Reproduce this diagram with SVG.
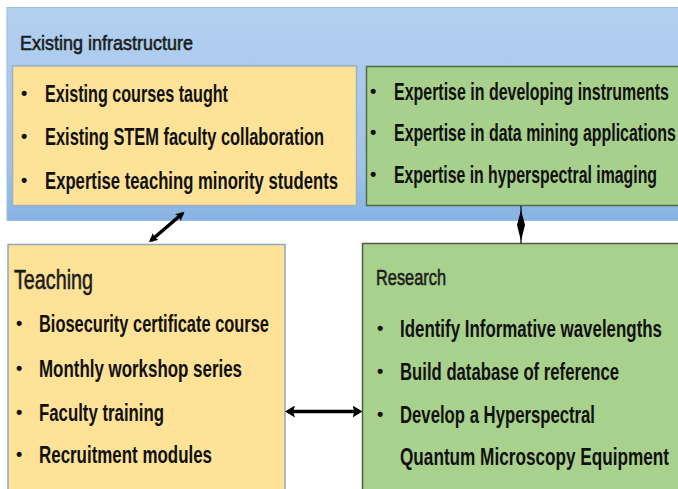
<svg xmlns="http://www.w3.org/2000/svg" width="678" height="489" viewBox="0 0 678 489">
  <defs>
    <linearGradient id="bandFill" x1="0" y1="0" x2="0" y2="1">
      <stop offset="0" stop-color="#B3D0F0"/>
      <stop offset="0.75" stop-color="#A0C3EA"/>
      <stop offset="1" stop-color="#86B3E3"/>
    </linearGradient>
    <marker id="head" viewBox="0 0 10 12" refX="7" refY="6" markerWidth="10" markerHeight="12" markerUnits="userSpaceOnUse" orient="auto-start-reverse">
      <path d="M0,0 L10,6 L0,12 L2,6 Z" fill="#000"/>
    </marker>
    <marker id="headSmall" viewBox="0 0 10 10" refX="7" refY="5" markerWidth="9" markerHeight="9" markerUnits="userSpaceOnUse" orient="auto-start-reverse">
      <path d="M0,0 L10,5 L0,10 L2,5 Z" fill="#000"/>
    </marker>
  </defs>
  <style>
    text { font-family: "Liberation Sans", Arial, sans-serif; fill: #111; }
    .item { font-size: 24.5px; font-weight: bold; }
    .dot { font-size: 18px; font-weight: bold; }
    .head { font-weight: normal; fill: #1c1c1c; stroke: #1c1c1c; stroke-width: 0.6; }
    .yellow { fill: #FEE298; stroke: #9FB0BE; stroke-width: 1.5; }
    .green { fill: #A8D08D; stroke: #4E6B43; stroke-width: 1.5; }
    .link { stroke: #000; stroke-width: 3.5; fill: none; }
  </style>

  <rect width="678" height="489" fill="#FFFFFF"/>

  <!-- existing infrastructure band -->
  <g id="infrastructure">
    <rect x="7" y="7.5" width="680" height="213" fill="url(#bandFill)" stroke="#9DBBDD" stroke-width="1"/>
    <text class="head" x="20" y="50" font-size="21" textLength="173" lengthAdjust="spacingAndGlyphs">Existing infrastructure</text>
  </g>

  <g id="teaching-assets">
    <rect class="yellow" x="12.5" y="66" width="344" height="139.5"/>
    <text class="dot" x="21" y="99">•</text>
    <text class="item" x="45" y="102" textLength="183" lengthAdjust="spacingAndGlyphs">Existing courses taught</text>
    <text class="dot" x="21" y="142">•</text>
    <text class="item" x="45" y="145" textLength="279" lengthAdjust="spacingAndGlyphs">Existing STEM faculty collaboration</text>
    <text class="dot" x="21" y="186">•</text>
    <text class="item" x="45" y="189" textLength="293" lengthAdjust="spacingAndGlyphs">Expertise teaching minority students</text>
  </g>

  <g id="research-assets">
    <rect class="green" x="366.5" y="66.5" width="320" height="139"/>
    <text class="dot" x="370" y="97">•</text>
    <text class="item" x="394" y="100" textLength="275" lengthAdjust="spacingAndGlyphs">Expertise in developing instruments</text>
    <text class="dot" x="370" y="138">•</text>
    <text class="item" x="394" y="141" textLength="282" lengthAdjust="spacingAndGlyphs">Expertise in data mining applications</text>
    <text class="dot" x="370" y="180">•</text>
    <text class="item" x="394" y="183" textLength="263" lengthAdjust="spacingAndGlyphs">Expertise in hyperspectral imaging</text>
  </g>

  <!-- lower boxes -->
  <g id="teaching">
    <rect x="8" y="244.5" width="277" height="250" fill="#FEE298" stroke="#8EA7BF" stroke-width="1.5"/>
    <text class="head" x="14" y="289" font-size="28" textLength="79" lengthAdjust="spacingAndGlyphs">Teaching</text>
    <text class="dot" x="16" y="329">•</text>
    <text class="item" x="39" y="332" textLength="230" lengthAdjust="spacingAndGlyphs">Biosecurity certificate course</text>
    <text class="dot" x="16" y="374">•</text>
    <text class="item" x="39" y="377" textLength="203" lengthAdjust="spacingAndGlyphs">Monthly workshop series</text>
    <text class="dot" x="16" y="418">•</text>
    <text class="item" x="39" y="421" textLength="125" lengthAdjust="spacingAndGlyphs">Faculty training</text>
    <text class="dot" x="16" y="460">•</text>
    <text class="item" x="39" y="463" textLength="173" lengthAdjust="spacingAndGlyphs">Recruitment modules</text>
  </g>

  <g id="research">
    <rect x="362.5" y="243.5" width="330" height="251" fill="#A9D18E" stroke="#4F5A4A" stroke-width="1.5"/>
    <text class="head" x="376" y="285" font-size="22" textLength="70" lengthAdjust="spacingAndGlyphs">Research</text>
    <text class="dot" x="377" y="334">•</text>
    <text class="item" x="400" y="337" textLength="262" lengthAdjust="spacingAndGlyphs">Identify Informative wavelengths</text>
    <text class="dot" x="377" y="377">•</text>
    <text class="item" x="400" y="380" textLength="219" lengthAdjust="spacingAndGlyphs">Build database of reference</text>
    <text class="dot" x="377" y="420">•</text>
    <text class="item" x="400" y="423" textLength="195" lengthAdjust="spacingAndGlyphs">Develop a Hyperspectral</text>
    <text class="item" x="400" y="465" textLength="269" lengthAdjust="spacingAndGlyphs">Quantum Microscopy Equipment</text>
  </g>

  <!-- connectors -->
  <g id="connectors">
    <line class="link" x1="182.5" y1="213.5" x2="151" y2="240.5" stroke-width="3" marker-start="url(#headSmall)" marker-end="url(#headSmall)"/>
    <line class="link" x1="288" y1="411.5" x2="359.5" y2="411.5" marker-start="url(#head)" marker-end="url(#head)"/>
    <line x1="521" y1="206" x2="521" y2="243.5" stroke="#000" stroke-width="1.2"/>
    <path d="M521,210 L525,225 L521,241 L517,225 Z" fill="#000"/>
  </g>
</svg>
